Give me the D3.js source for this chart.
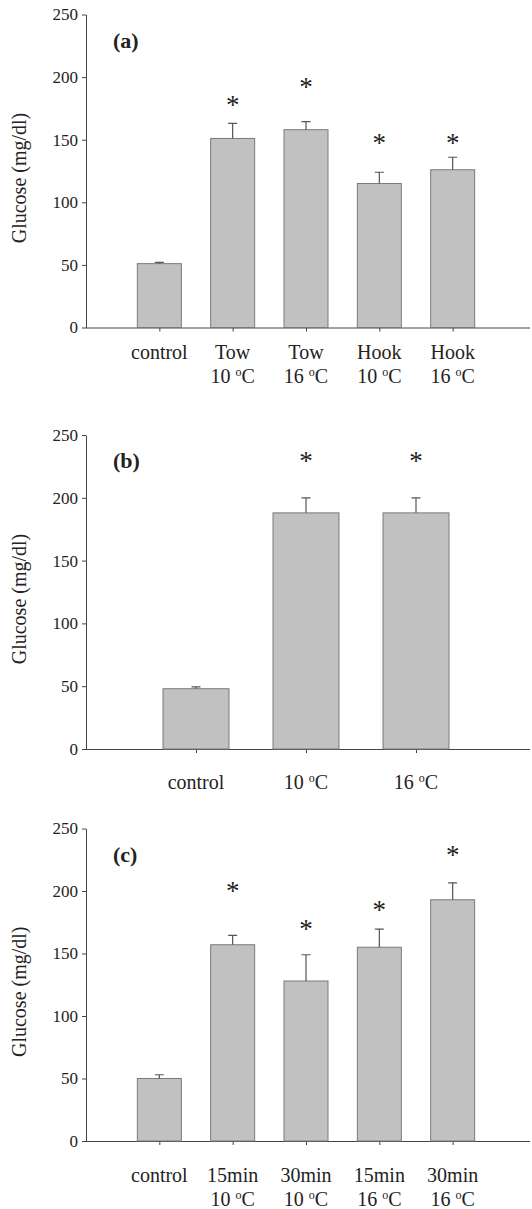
<!DOCTYPE html>
<html>
<head>
<meta charset="utf-8">
<script src="https://cdn.jsdelivr.net/npm/d3@7"></script>
<style>
  body { margin: 0; background: #fff; }
  svg text { font-family: "Liberation Serif", "Times New Roman", serif; fill: #222; }
</style>
</head>
<body>
<div id="chart"></div>
<script>
// panel (a)
var catsA = [["control"], ["Tow", "10 |C"], ["Tow", "16 |C"], ["Hook", "10 |C"], ["Hook", "16 |C"]];
var meanA = [51, 151, 158, 115, 126];
var errA = [52, 163, 164.5, 124, 136];
var starA = [null, 182, 196, 151, 151];

// panel (b)
var catsB = [["control"], ["10 |C"], ["16 |C"]];
var meanB = [48, 188, 188];
var errB = [49.5, 200, 200];
var starB = [null, 233, 233];

// panel (c)
var catsC = [["control"], ["15min", "10 |C"], ["30min", "10 |C"], ["15min", "16 |C"], ["30min", "16 |C"]];
var meanC = [50, 157, 128, 155, 193];
var errC = [53, 164.5, 149, 169.5, 206.5];
var starC = [null, 204, 173.5, 188.5, 233];

var yTicks = [0, 50, 100, 150, 200, 250];

var svg = d3.select('#chart').append('svg')
	.attr('width', 532)
	.attr('height', 1209);

var axisLeft = 86, axisRight = 526;

function drawPanel(letter, cats, means, errs, stars, yBottom, yTop, labelGap) {
	var g = svg.append('g');
	var n = cats.length;
	var xScale = d3.scaleLinear().domain([0, n + 1]).range([axisLeft, axisRight]);
	var yScale = d3.scaleLinear().domain([0, 250]).range([yBottom, yTop]);
	var step = xScale(1) - xScale(0);
	var barW = step * 0.6;

	// y axis
	var yAxis = g.append('g')
		.attr('transform', 'translate(' + axisLeft + ',0)')
		.call(d3.axisLeft(yScale).tickValues(yTicks).tickSize(4).tickSizeOuter(0).tickPadding(4));
	yAxis.select('.domain').attr('stroke', '#444');
	yAxis.selectAll('.tick line').attr('stroke', '#444');
	yAxis.selectAll('.tick text').attr('font-size', 17).attr('font-family', '"Liberation Serif", serif').attr('fill', '#222');

	// x axis
	var xAxis = g.append('g')
		.attr('transform', 'translate(0,' + yBottom + ')')
		.call(d3.axisBottom(xScale).tickValues(d3.range(1, n + 1)).tickSize(4).tickSizeOuter(0).tickFormat(''));
	xAxis.select('.domain').attr('stroke', '#444').attr('d', 'M' + axisLeft + ',0.5H530');
	xAxis.selectAll('.tick line').attr('stroke', '#444');

	// bars
	g.selectAll('rect.bar').data(means).enter()
		.append('rect')
		.attr('class', 'bar')
		.attr('x', function (d, i) { return xScale(i + 1) - barW / 2; })
		.attr('y', function (d) { return yScale(d); })
		.attr('width', barW)
		.attr('height', function (d) { return yBottom - yScale(d); })
		.attr('fill', '#c1c1c1')
		.attr('stroke', '#7a7a7a')
		.attr('stroke-width', 1);

	// error bars (upper only)
	g.selectAll('path.err').data(errs).enter()
		.append('path')
		.attr('class', 'err')
		.attr('fill', 'none')
		.attr('stroke', '#555')
		.attr('stroke-width', 1.2)
		.attr('d', function (d, i) {
			var x = xScale(i + 1);
			return 'M' + x + ',' + yScale(means[i]) + 'V' + yScale(d) + 'M' + (x - 4.5) + ',' + yScale(d) + 'H' + (x + 4.5);
		});

	// asterisks
	stars.forEach(function (s, i) {
		if (s === null) return;
		g.append('text')
			.attr('text-anchor', 'middle')
			.attr('font-size', 27)
			.attr('x', xScale(i + 1))
			.attr('y', yScale(s) + 14)
			.text('*');
	});

	// x labels
	cats.forEach(function (lines, i) {
		lines.forEach(function (line, j) {
			var t = g.append('text')
				.attr('text-anchor', 'middle')
				.attr('font-size', 20)
				.attr('x', xScale(i + 1))
				.attr('y', yBottom + labelGap + j * 24.5);
			var parts = line.split('|');
			t.append('tspan').text(parts[0]);
			if (parts.length > 1) {
				t.append('tspan').attr('font-size', 12).attr('dy', -7).text('o');
				t.append('tspan').attr('dy', 7).text(parts[1]);
			}
		});
	});

	// panel letter
	g.append('text')
		.attr('x', 113)
		.attr('y', yScale(250) + 33)
		.attr('font-size', 22)
		.attr('font-weight', 'bold')
		.text('(' + letter + ')');

	// y title
	g.append('text')
		.attr('transform', 'translate(26,' + ((yBottom + yTop) / 2 + 7) + ') rotate(-90)')
		.attr('text-anchor', 'middle')
		.attr('font-size', 20)
		.text('Glucose (mg/dl)');
}

drawPanel('a', catsA, meanA, errA, starA, 327.5, 14.5, 31);
drawPanel('b', catsB, meanB, errB, starB, 749, 435, 40);
drawPanel('c', catsC, meanC, errC, starC, 1141, 828.5, 40.5);
</script>
</body>
</html>
